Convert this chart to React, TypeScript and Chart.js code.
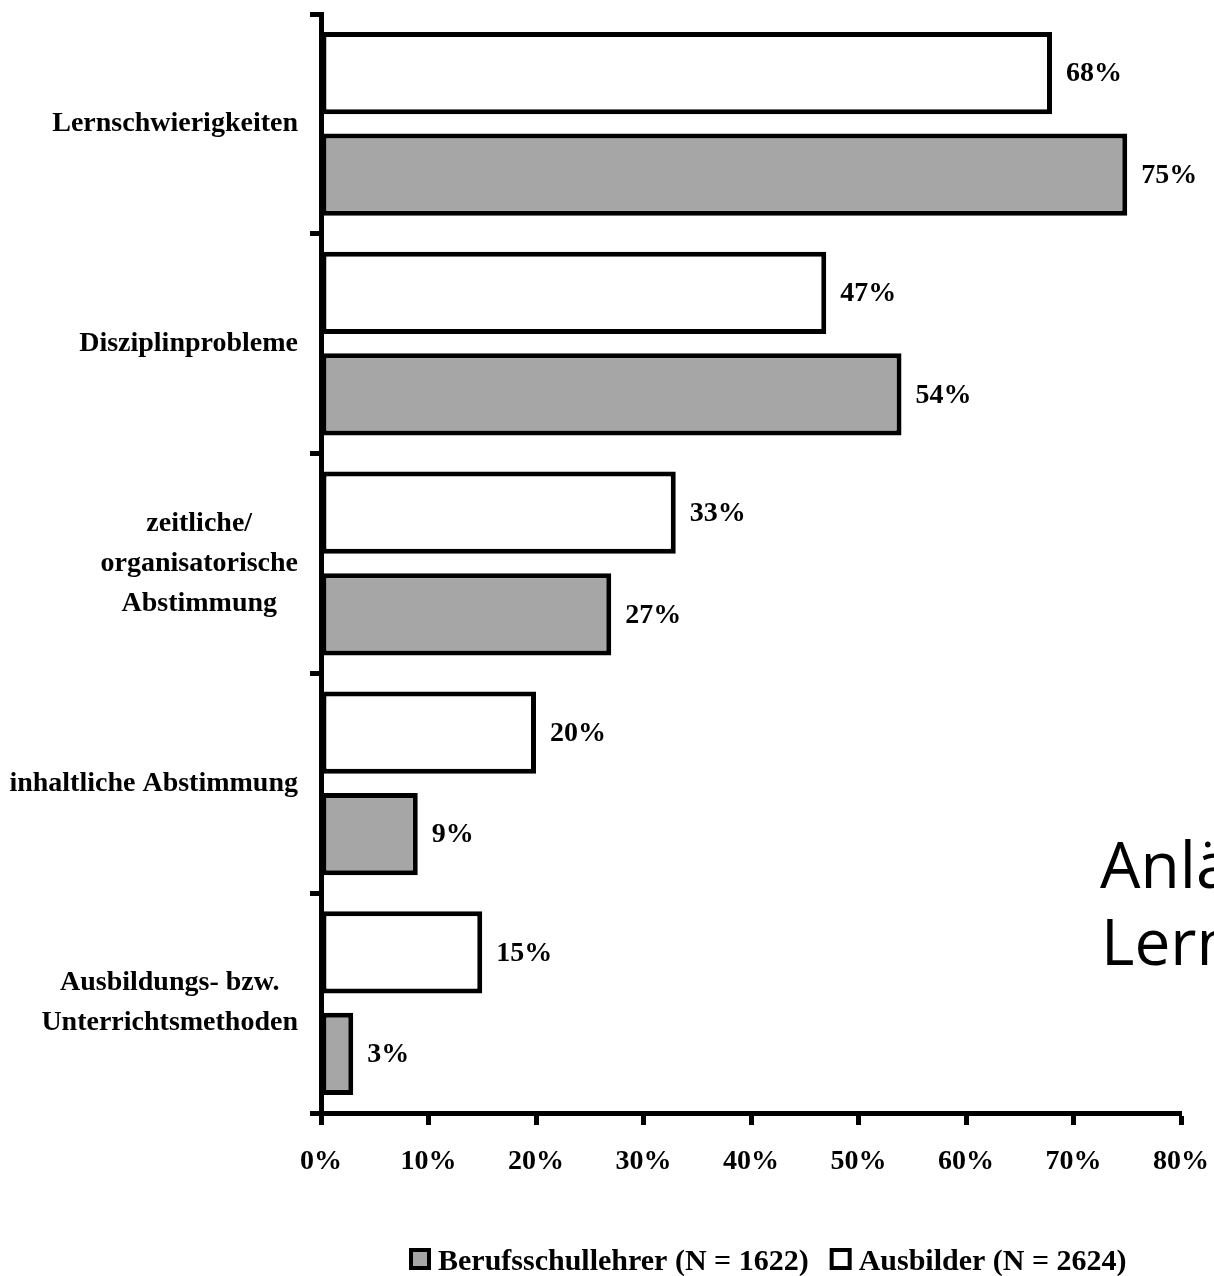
import React, { useEffect, useRef } from 'react';
import { Chart, registerables } from 'chart.js';

Chart.register(...registerables);

const categories: string[][] = [
  ['Lernschwierigkeiten'],
  ['Disziplinprobleme'],
  ['zeitliche/', 'organisatorische', 'Abstimmung'],
  ['inhaltliche Abstimmung'],
  ['Ausbildungs- bzw.', 'Unterrichtsmethoden'],
];
const ausbilderValues = [68, 47, 33, 20, 15];
const berufsschulValues = [75, 54, 27, 9, 3];
const seriesNames = ['Ausbilder (N = 2624)', 'Berufsschullehrer (N = 1622)'];
const xMin = 0;
const xMax = 80;
const xStep = 10;
const sideText = ['Anlä', 'Lern'];

const SERIF = '"Liberation Serif", "Times New Roman", serif';
const BOLD28 = `bold 28px ${SERIF}`;

const labelsPlugin = {
  id: 'customLabels',
  afterDraw(chart: any) {
    const ctx = chart.ctx;
    const yScale = chart.scales.y;
    ctx.save();
    ctx.fillStyle = '#000';
    ctx.font = BOLD28;
    ctx.textBaseline = 'middle';
    ctx.textAlign = 'center';
    // category labels
    categories.forEach((lines, i) => {
      const cy = yScale.getPixelForValue(i);
      const maxW = Math.max(...lines.map((l) => ctx.measureText(l).width));
      const cx = 298 - maxW / 2;
      lines.forEach((l, j) => {
        ctx.fillText(l, cx, cy + (j - (lines.length - 1) / 2) * 40);
      });
    });
    // value labels
    ctx.textAlign = 'left';
    chart.data.datasets.forEach((ds: any, di: number) => {
      const meta = chart.getDatasetMeta(di);
      meta.data.forEach((el: any, i: number) => {
        ctx.fillText(ds.data[i] + '%', el.x + 14, el.y + 1);
      });
    });
    // legend (Berufsschullehrer first)
    ctx.font = `bold 30px ${SERIF}`;
    let x = 409;
    const boxTop = 1248;
    const order = [1, 0];
    order.forEach((di) => {
      const ds = chart.data.datasets[di];
      ctx.fillStyle = '#000';
      ctx.fillRect(x, boxTop, 22, 22);
      ctx.fillStyle = ds.backgroundColor;
      ctx.fillRect(x + 4, boxTop + 4, 14, 14);
      ctx.fillStyle = '#000';
      ctx.textAlign = 'left';
      ctx.textBaseline = 'alphabetic';
      const tx = x + 29;
      ctx.fillText(ds.label, tx, 1270);
      x = tx + ctx.measureText(ds.label).width + 21;
    });
    // side text
    ctx.font = '64px "Open Sans", "Noto Sans", sans-serif';
    ctx.fillText(sideText[0], 1100, 888);
    ctx.fillText(sideText[1], 1101, 965);
    ctx.restore();
  },
};

export default function App() {
  const ref = useRef<HTMLCanvasElement | null>(null);
  useEffect(() => {
    if (!ref.current) return;
    const chart = new Chart(ref.current, {
      type: 'bar',
      data: {
        labels: categories.map((c) => c.join(' ')),
        datasets: [
          {
            label: seriesNames[0],
            data: ausbilderValues,
            backgroundColor: '#ffffff',
            borderColor: '#000000',
            borderWidth: 5,
            borderSkipped: false,
            categoryPercentage: 0.924,
            barPercentage: 0.81,
          },
          {
            label: seriesNames[1],
            data: berufsschulValues,
            backgroundColor: '#a6a6a6',
            borderColor: '#000000',
            borderWidth: 5,
            borderSkipped: false,
            categoryPercentage: 0.924,
            barPercentage: 0.81,
          },
        ],
      },
      options: {
        indexAxis: 'y',
        animation: false,
        responsive: false,
        maintainAspectRatio: false,
        layout: { padding: { left: 0, right: 33, top: 14, bottom: 0 } },
        plugins: { legend: { display: false }, tooltip: { enabled: false } },
        scales: {
          x: {
            type: 'linear',
            min: xMin,
            max: xMax,
            ticks: {
              stepSize: xStep,
              callback: (v: any) => v + '%',
              font: { family: SERIF, size: 28, weight: 'bold' },
              color: '#000',
              padding: 20,
              maxRotation: 0,
              autoSkip: false,
            },
            grid: {
              drawOnChartArea: false,
              drawTicks: true,
              tickLength: 12,
              tickWidth: 5,
              tickColor: '#000',
              color: '#000',
            },
            border: { display: true, color: '#000', width: 5 },
            afterFit: (s: any) => {
              s.height = 163;
              s.paddingLeft = 0;
              s.paddingRight = 0;
            },
          },
          y: {
            type: 'category',
            ticks: { display: false },
            grid: {
              offset: true,
              drawOnChartArea: false,
              drawTicks: true,
              tickLength: 11,
              tickWidth: 5,
              tickColor: '#000',
              color: '#000',
            },
            border: { display: true, color: '#000', width: 5 },
            afterFit: (s: any) => {
              s.width = 321;
              s.paddingTop = 0;
              s.paddingBottom = 0;
            },
          },
        },
      },
      plugins: [labelsPlugin],
    } as any);
    return () => chart.destroy();
  }, []);
  return (
    <div style={{ position: 'absolute', left: 0, top: 0, width: 1214, height: 1276, background: '#fff' }}>
      <canvas ref={ref} width={1214} height={1276} style={{ width: 1214, height: 1276, display: 'block' }} />
    </div>
  );
}
